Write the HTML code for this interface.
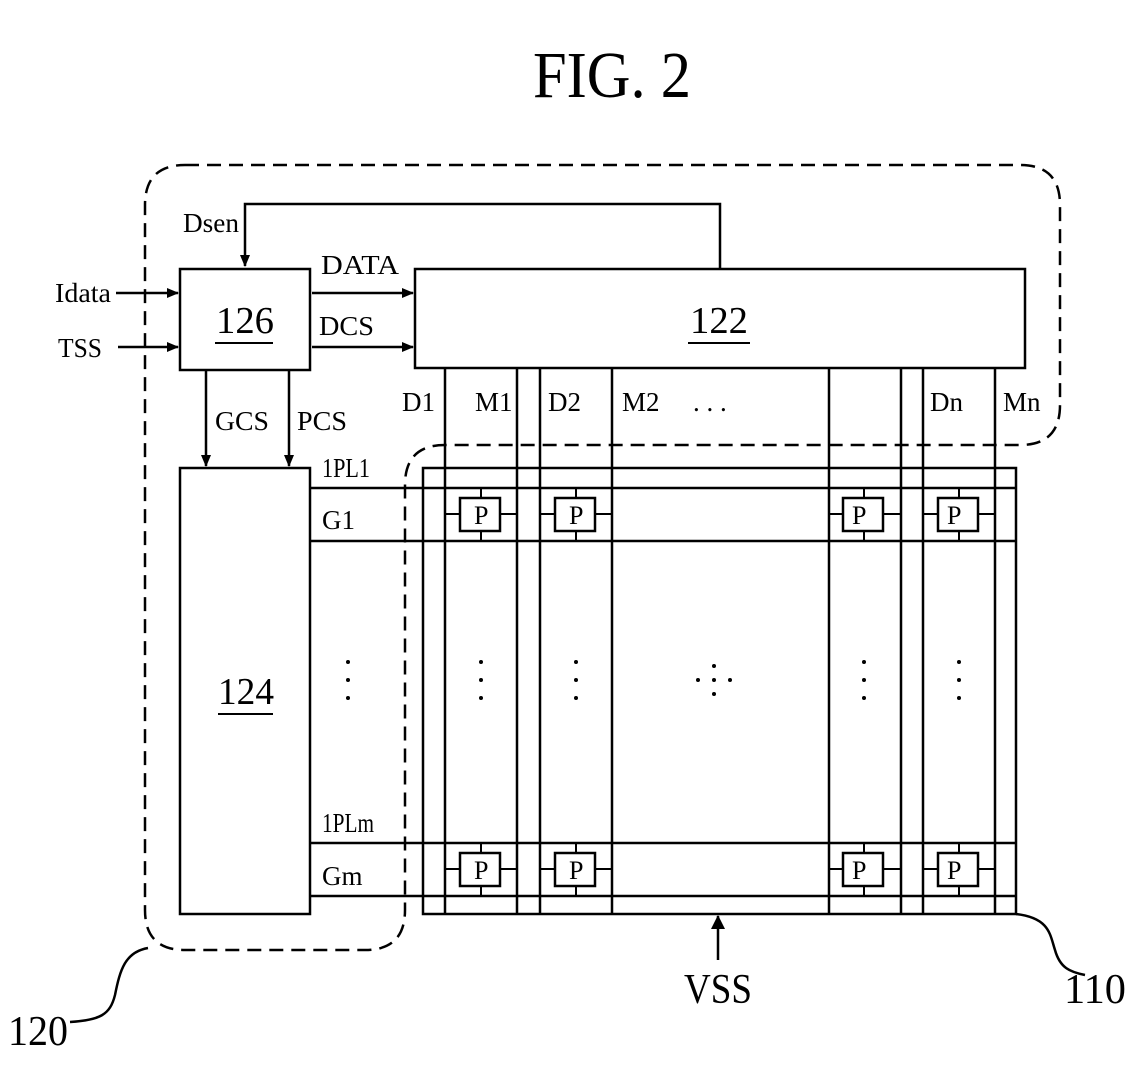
<!DOCTYPE html>
<html><head><style>
html,body{margin:0;padding:0;background:#fff;}
svg text{font-family:"Liberation Serif",serif;fill:#000;}
</style></head><body>
<svg width="1134" height="1075" viewBox="0 0 1134 1075" xmlns="http://www.w3.org/2000/svg">
<defs><marker id="a" markerWidth="12" markerHeight="12" refX="11" refY="6" orient="auto" markerUnits="userSpaceOnUse" viewBox="0 0 12 12"><path d="M0,1 L12,6 L0,11 z" fill="#000"/></marker>
<marker id="b" markerWidth="14" markerHeight="16" refX="13" refY="8" orient="auto" markerUnits="userSpaceOnUse" viewBox="0 0 14 16"><path d="M0,1 L14,8 L0,15 z" fill="#000"/></marker></defs>
<text x="612" y="97" font-size="66" text-anchor="middle" textLength="158" lengthAdjust="spacingAndGlyphs">FIG. 2</text>
<g fill="none" stroke="#000" stroke-width="2.5" stroke-dasharray="14,8">
<path d="M185,165 H1020 Q1060,165 1060,205 V405 Q1060,445 1020,445 H445 Q405,445 405,485 V910 Q405,950 365,950 H185 Q145,950 145,910 V205 Q145,165 185,165 Z"/>
</g>
<g fill="none" stroke="#000" stroke-width="2.5">
<rect x="180" y="269" width="130" height="101"/>
<rect x="415" y="269" width="610" height="99"/>
<rect x="180" y="468" width="130" height="446"/>
<rect x="423" y="468" width="593" height="446"/>
<path d="M720,269 V204 H245 V266" marker-end="url(#a)"/>
<path d="M116,293 H178" marker-end="url(#a)"/>
<path d="M118,347 H178" marker-end="url(#a)"/>
<path d="M312,293 H413" marker-end="url(#a)"/>
<path d="M312,347 H413" marker-end="url(#a)"/>
<path d="M206,370 V466" marker-end="url(#a)"/>
<path d="M289,370 V466" marker-end="url(#a)"/>
<path d="M445,368 V914 M517,368 V914 M540,368 V914 M612,368 V914 M829,368 V914 M901,368 V914 M923,368 V914 M995,368 V914"/>
<path d="M310,488 H1016 M310,541 H1016 M310,843 H1016 M310,896 H1016"/>
<path d="M718,960 V916" marker-end="url(#b)"/>
<path d="M1016,914 C1050,918 1050,935 1055,950 C1060,968 1070,972 1085,975"/>
<path d="M70,1022 C100,1020 110,1015 115,995 C120,970 125,952 148,948"/>
</g>
<g stroke="#000" stroke-width="2" fill="#fff">
<g id="p"><path d="M445,514 H517 M481,488 V541"/><rect x="460" y="498" width="40" height="33" stroke-width="2.5"/></g>
<use href="#p" x="95"/><use href="#p" x="383"/><use href="#p" x="478"/>
<use href="#p" y="355"/><use href="#p" x="95" y="355"/><use href="#p" x="383" y="355"/><use href="#p" x="478" y="355"/>
</g>
<g font-size="38">
<text x="216" y="333" textLength="58" lengthAdjust="spacingAndGlyphs">126</text>
<text x="690" y="333" textLength="58" lengthAdjust="spacingAndGlyphs">122</text>
<text x="218" y="704" textLength="56" lengthAdjust="spacingAndGlyphs">124</text>
</g>
<path d="M215,343 H273 M688,343 H750 M218,714 H273" stroke="#000" stroke-width="2"/>
<g font-size="27">
<text x="183" y="232" textLength="56" lengthAdjust="spacingAndGlyphs">Dsen</text>
<text x="55" y="302" textLength="56" lengthAdjust="spacingAndGlyphs">Idata</text>
<text x="58" y="357" textLength="44" lengthAdjust="spacingAndGlyphs">TSS</text>
<text x="321" y="274" textLength="78" lengthAdjust="spacingAndGlyphs">DATA</text>
<text x="319" y="335" textLength="55" lengthAdjust="spacingAndGlyphs">DCS</text>
<text x="215" y="430" textLength="54" lengthAdjust="spacingAndGlyphs">GCS</text>
<text x="297" y="430" textLength="50" lengthAdjust="spacingAndGlyphs">PCS</text>
<text x="402" y="411">D1</text>
<text x="475" y="411">M1</text>
<text x="548" y="411">D2</text>
<text x="622" y="411">M2</text>
<text x="693" y="411">. . .</text>
<text x="930" y="411">Dn</text>
<text x="1003" y="411">Mn</text>
<text x="322" y="477" textLength="48" lengthAdjust="spacingAndGlyphs">1PL1</text>
<text x="322" y="529">G1</text>
<text x="322" y="832" textLength="52" lengthAdjust="spacingAndGlyphs">1PLm</text>
<text x="322" y="885">Gm</text>
<g font-size="26"><text x="474" y="524">P</text><text x="569" y="524">P</text><text x="852" y="524">P</text><text x="947" y="524">P</text>
<text x="474" y="879">P</text><text x="569" y="879">P</text><text x="852" y="879">P</text><text x="947" y="879">P</text></g>
<text x="684" y="1003" font-size="42" textLength="68" lengthAdjust="spacingAndGlyphs">VSS</text>
<text x="1064" y="1003" font-size="42" textLength="62" lengthAdjust="spacingAndGlyphs">110</text>
<text x="8" y="1045" font-size="42" textLength="60" lengthAdjust="spacingAndGlyphs">120</text>
</g>
<g fill="#000">
<circle cx="348" cy="662" r="2"/><circle cx="348" cy="680" r="2"/><circle cx="348" cy="698" r="2"/>
<circle cx="481" cy="662" r="2"/><circle cx="481" cy="680" r="2"/><circle cx="481" cy="698" r="2"/>
<circle cx="576" cy="662" r="2"/><circle cx="576" cy="680" r="2"/><circle cx="576" cy="698" r="2"/>
<circle cx="864" cy="662" r="2"/><circle cx="864" cy="680" r="2"/><circle cx="864" cy="698" r="2"/>
<circle cx="959" cy="662" r="2"/><circle cx="959" cy="680" r="2"/><circle cx="959" cy="698" r="2"/>
<circle cx="714" cy="666" r="2"/><circle cx="714" cy="680" r="2"/><circle cx="714" cy="694" r="2"/><circle cx="698" cy="680" r="2"/><circle cx="730" cy="680" r="2"/>
</g>
</svg>
</body></html>
